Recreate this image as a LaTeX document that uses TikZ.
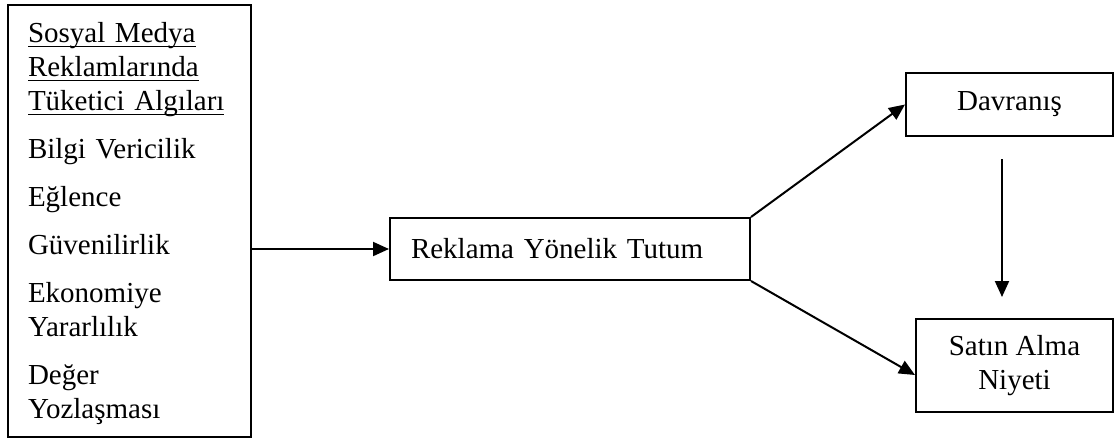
\documentclass[tikz,border=0pt]{standalone}
\usepackage{fontspec}
\setmainfont{Liberation Serif}
\usetikzlibrary{arrows.meta,calc}
\newcommand\myul[1]{\leavevmode\setbox0\hbox{#1}\rlap{\rule[-2.05pt]{\wd0}{0.7pt}}\box0}
\begin{document}
\begin{tikzpicture}[x=0.5pt,y=-0.5pt,
  box/.style={draw, line width=1pt, inner sep=0pt, font=\fontsize{14.5}{17}\selectfont},
  arr/.style={-{Triangle[length=8pt,width=7pt]}, line width=1pt}]
\useasboundingbox (0,0) rectangle (1115,446);
\node[box, minimum width=121.5pt, minimum height=216pt, text width=101.5pt, align=left] (lb) at (129.5,221)
  {\leavevmode\rule{0pt}{13pt}\myul{Sosyal Medya}\\ \myul{Reklamlarında}\\ \myul{Tüketici Algıları}\\[7pt]
   Bilgi Vericilik\\[7pt] Eğlence\\[7pt] Güvenilirlik\\[7pt] Ekonomiye\\ Yararlılık\\[7pt]
   Değer\\ Yozlaşması};
\node[box, minimum width=180pt, minimum height=31pt, text width=159pt, align=left] (mb) at (570,249)
  {Reklama Yönelik Tutum};
\node[box, minimum width=103.5pt, minimum height=31.5pt] (dv) at (1009.5,104.5) {Davranış};
\node[box, minimum width=98.5pt, minimum height=46.5pt, align=center] (sa) at (1014.5,365.5)
  {Satın Alma\\ Niyeti};
\draw[arr] (lb.east |- mb.west) -- (mb.west);
\draw[arr] (mb.north east) -- (dv.west);
\draw[arr] (mb.south east) -- ($(sa.north west)!0.6!(sa.south west)$);
\coordinate (vt) at ([xshift=-3.75pt]dv.south);
\coordinate (vb) at (vt |- sa.north);
\draw[arr, shorten <=11pt, shorten >=10.5pt] (vt) -- (vb);
\end{tikzpicture}
\end{document}
